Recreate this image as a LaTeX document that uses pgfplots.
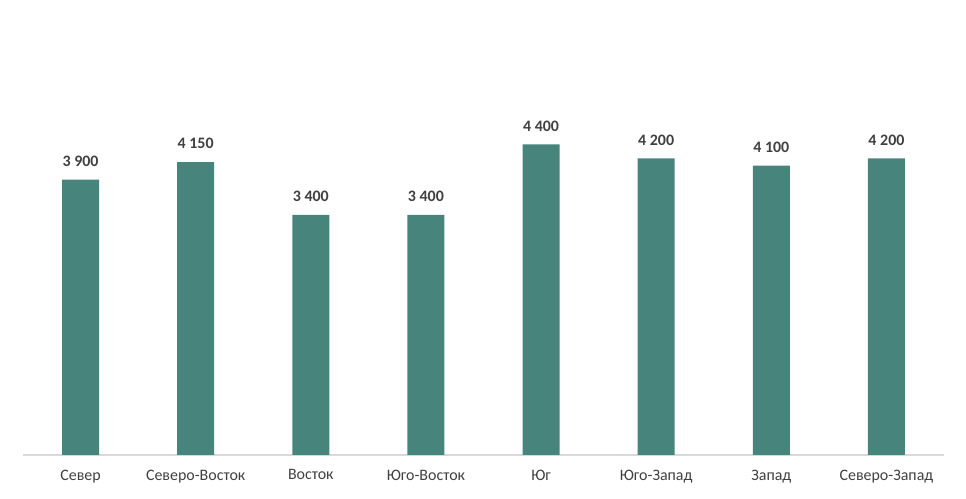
\documentclass[border=0pt]{standalone}
\usepackage{fontspec}
\setmainfont{Carlito}
\usepackage{pgfplots}
\pgfplotsset{compat=1.18}
\definecolor{barc}{HTML}{47857C}
\definecolor{axc}{HTML}{D9D9D9}
\definecolor{txt}{HTML}{404040}
\begin{document}
\begin{tikzpicture}
\useasboundingbox (0,0) rectangle (966bp,499bp);
\begin{axis}[
  at={(23bp,44bp)}, anchor=south west,
  scale only axis,
  width=921bp, height=423.6bp,
  xmin=-0.5, xmax=7.5, ymin=0, ymax=6000,
  axis x line*=bottom, axis y line=none,
  x axis line style={draw=axc, line width=1.3pt, -},
  xtick=data, xtick style={draw=none},
  xticklabels={Север,Северо-Восток,Восток,Юго-Восток,Юг,Юго-Запад,Запад,Северо-Запад},
  xticklabel style={font=\fontsize{16}{18}\selectfont, text=txt, yshift=-7bp},
  ytick=\empty,
  ybar, bar width=37bp,
  nodes near coords,
  nodes near coords style={font=\fontsize{16}{18}\selectfont\bfseries, text=txt, yshift=9.5bp},
  /pgf/number format/.cd, 1000 sep={\ }, assume math mode=true,
]
\addplot[fill=barc, draw=none] coordinates {(0,3900) (1,4150) (2,3400) (3,3400) (4,4400) (5,4200) (6,4100) (7,4200)};
\end{axis}
\end{tikzpicture}
\end{document}
